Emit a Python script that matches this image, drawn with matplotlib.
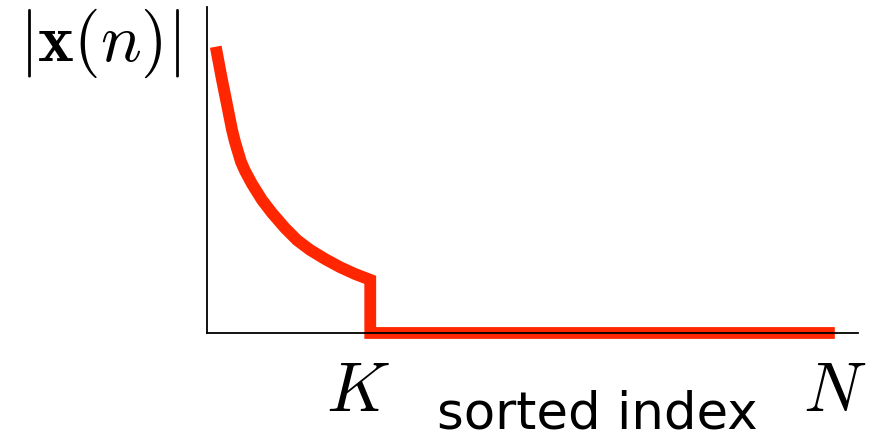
import numpy as np
import matplotlib
matplotlib.use('Agg')
import matplotlib.pyplot as plt

plt.rcParams['mathtext.fontset'] = 'cm'

# Sorted magnitudes: a decaying head of K large entries, then zeros up to N
K = 26
N = 100
head_idx = [1.39, 2.39, 3.03, 3.98, 4.46, 4.94, 5.41, 6.05, 7.17, 8.76,
            10.35, 12.42, 14.33, 16.40, 18.79, 21.18, 23.57, K]
head_mag = [0.878, 0.776, 0.715, 0.623, 0.586, 0.555, 0.525, 0.497, 0.457, 0.408,
            0.368, 0.322, 0.285, 0.255, 0.227, 0.202, 0.181, 0.163]

idx = head_idx + [K, N]
mag = head_mag + [0.0, 0.0]

fig = plt.figure(figsize=(8.75, 4.46), dpi=100)
ax = fig.add_axes([0.2366, 0.2534, 0.744, 0.731])

ax.plot(idx, mag, color='#ff2600', linewidth=8.5, solid_joinstyle='miter',
        solid_capstyle='butt', clip_on=False)

ax.set_xlim(0, 103.7)
ax.set_ylim(0, 1)
ax.spines['top'].set_visible(False)
ax.spines['right'].set_visible(False)
for s in ('left', 'bottom'):
    ax.spines[s].set_linewidth(1.3)
ax.set_xticks([])
ax.set_yticks([])

# axis annotations
trans = ax.get_xaxis_transform()
ax.text(K - 2, -0.239, '$K$', transform=trans, ha='center', va='baseline', fontsize=50)
ax.text(N, -0.239, '$N$', transform=trans, ha='center', va='baseline', fontsize=50)
ax.text(0.599, -0.294, 'sorted index', transform=ax.transAxes, ha='center',
        va='baseline', fontsize=37, family='DejaVu Sans')
fig.text(0.114, 0.903, r'$|\mathbf{x}(n)|$', ha='center', va='center', fontsize=49)

fig.savefig('out.png', dpi=100)
